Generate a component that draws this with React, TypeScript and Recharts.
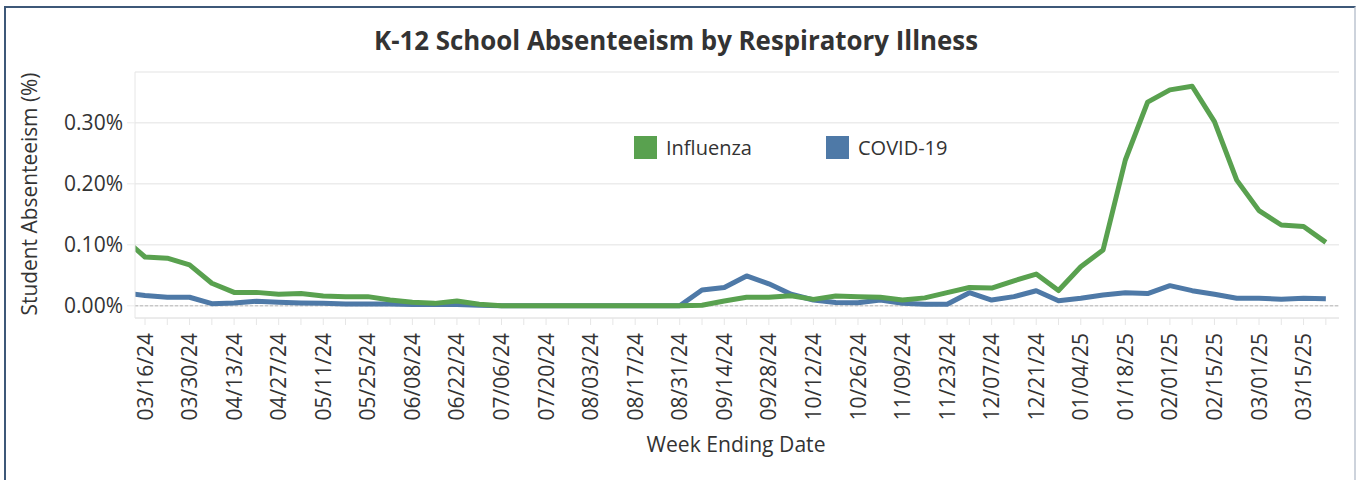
import React from "react";
import { LineChart, Line, XAxis, YAxis, CartesianGrid, ReferenceLine, Legend } from "recharts";

// Week ending dates (weekly, Saturdays)
const weekEnding = [
  "03/09/24", "03/16/24", "03/23/24", "03/30/24", "04/06/24", "04/13/24", "04/20/24", "04/27/24",
  "05/04/24", "05/11/24", "05/18/24", "05/25/24", "06/01/24", "06/08/24", "06/15/24", "06/22/24",
  "06/29/24", "07/06/24", "07/13/24", "07/20/24", "07/27/24", "08/03/24", "08/10/24", "08/17/24",
  "08/24/24", "08/31/24", "09/07/24", "09/14/24", "09/21/24", "09/28/24", "10/05/24", "10/12/24",
  "10/19/24", "10/26/24", "11/02/24", "11/09/24", "11/16/24", "11/23/24", "11/30/24", "12/07/24",
  "12/14/24", "12/21/24", "12/28/24", "01/04/25", "01/11/25", "01/18/25", "01/25/25", "02/01/25",
  "02/08/25", "02/15/25", "02/22/25", "03/01/25", "03/08/25", "03/15/25", "03/22/25",
];

// Student absenteeism (%) due to influenza
const influenza = [
  0.112, 0.080, 0.078, 0.067, 0.037, 0.022, 0.022, 0.019,
  0.020, 0.016, 0.015, 0.015, 0.0095, 0.0057, 0.004, 0.008,
  0.0025, 0.0, 0.0, 0.0, 0.0, 0.0, 0.0, 0.0,
  0.0, 0.0, 0.001, 0.008, 0.014, 0.014, 0.0165, 0.0105,
  0.016, 0.015, 0.014, 0.0095, 0.013, 0.0215, 0.030, 0.029,
  0.041, 0.052, 0.025, 0.064, 0.0915, 0.239, 0.334, 0.354,
  0.360, 0.302, 0.206, 0.156, 0.1325, 0.130, 0.104,
];

// Student absenteeism (%) due to COVID-19
const covid19 = [
  0.021, 0.017, 0.014, 0.014, 0.0035, 0.0045, 0.0075, 0.0057,
  0.0046, 0.004, 0.003, 0.003, 0.003, 0.002, 0.002, 0.002,
  0.001, 0.0, 0.0, 0.0, 0.0, 0.0, 0.0, 0.0,
  0.0, 0.0, 0.026, 0.030, 0.049, 0.036, 0.019, 0.0095,
  0.0055, 0.005, 0.0095, 0.004, 0.0025, 0.0025, 0.0215, 0.0095,
  0.015, 0.0247, 0.0084, 0.0123, 0.0177, 0.0215, 0.020, 0.033,
  0.0248, 0.019, 0.0123, 0.0123, 0.0107, 0.0123, 0.0116,
];

const yTicks = [0, 0.1, 0.2, 0.3];
const legendOrder = ["Influenza", "COVID-19"];

const data = weekEnding.map((date, k) => ({
  k,
  date,
  influenza: influenza[k],
  covid: covid19[k],
}));

const xTicks = weekEnding.map((_, k) => k).filter((k) => k >= 1);

const FONT = "'Open Sans', 'Noto Sans', 'DejaVu Sans', sans-serif";
const GREEN = "#59a14f";
const BLUE = "#4e79a7";
const TEXT = "#333333";

function DateTick(props: any) {
  const { x, y, payload } = props;
  const k = payload.value;
  if (k % 2 !== 1) return <g />;
  return (
    <text
      x={x}
      y={y}
      transform={`rotate(-90, ${x}, ${y})`}
      textAnchor="end"
      dy="0.36em"
      fontSize={21}
      fill={TEXT}
      fontFamily={FONT}
    >
      {weekEnding[k]}
    </text>
  );
}

function LegendContent(props: any) {
  const payload = [...(props.payload || [])].sort(
    (a: any, b: any) => legendOrder.indexOf(a.value) - legendOrder.indexOf(b.value)
  );
  return (
    <div style={{ display: "flex", alignItems: "center", fontFamily: FONT }}>
      {payload.map((entry: any, i: number) => (
        <div
          key={i}
          style={{ display: "flex", alignItems: "center", width: i === 0 ? 192 : 140 }}
        >
          <div style={{ width: 23, height: 23, background: entry.color, marginRight: 9 }} />
          <span style={{ fontSize: 20, color: TEXT, lineHeight: "23px" }}>{entry.value}</span>
        </div>
      ))}
    </div>
  );
}

export default function App() {
  return (
    <div
      style={{
        position: "fixed",
        left: 0,
        top: 0,
        width: 1358,
        height: 480,
        background: "#ffffff",
        overflow: "hidden",
      }}
    >
      <div
        style={{
          position: "absolute",
          left: 4,
          top: 6,
          width: 1348,
          height: 480,
          borderLeft: "2px solid #3e5878",
          borderTop: "2px solid #3e5878",
          borderRight: "2px solid #cdd3dc",
        }}
      />
      <div style={{ position: "absolute", left: 0, top: 0 }}>
        <LineChart
          width={1358}
          height={480}
          data={data}
          margin={{ top: 72, right: 19, bottom: 0, left: 0 }}
        >
          <CartesianGrid horizontal vertical={false} stroke="#ececec" strokeWidth={1.5} />
          <XAxis
            dataKey="k"
            type="number"
            domain={[0.551, 54.59]}
            allowDataOverflow
            ticks={xTicks}
            interval={0}
            height={162}
            tickSize={7}
            tickMargin={8}
            tick={<DateTick />}
            tickLine={{ stroke: "#e6e6e6" }}
            axisLine={{ stroke: "#e6e6e6" }}
          />
          <YAxis
            type="number"
            domain={[-0.02, 0.3833]}
            allowDataOverflow
            ticks={yTicks}
            width={135}
            tickSize={8}
            tickMargin={4}
            tickFormatter={(v: number) => `${v.toFixed(2)}%`}
            tick={{ fontSize: 21, fill: TEXT, fontFamily: FONT }}
            tickLine={{ stroke: "#ececec" }}
            axisLine={{ stroke: "#e6e6e6" }}
          />
          <ReferenceLine y={0} stroke="#b8b8b8" strokeDasharray="3 2" />
          <Legend
            layout="horizontal"
            verticalAlign="middle"
            align="center"
            wrapperStyle={{ position: "absolute", left: 634, top: 136, width: 360, height: 24 }}
            content={<LegendContent />}
          />
          <Line
            name="COVID-19"
            type="linear"
            dataKey="covid"
            stroke={BLUE}
            strokeWidth={5}
            dot={false}
            activeDot={false}
            strokeLinejoin="round"
            isAnimationActive={false}
          />
          <Line
            name="Influenza"
            type="linear"
            dataKey="influenza"
            stroke={GREEN}
            strokeWidth={5}
            dot={false}
            activeDot={false}
            strokeLinejoin="round"
            isAnimationActive={false}
          />
        </LineChart>
      </div>
      <svg
        width={1358}
        height={480}
        style={{ position: "absolute", left: 0, top: 0, pointerEvents: "none" }}
      >
        <text
          x={676}
          y={50}
          textAnchor="middle"
          fontFamily={FONT}
          fontWeight={700}
          fontSize={26}
          fill={TEXT}
          textLength={604}
          lengthAdjust="spacingAndGlyphs"
        >
          K-12 School Absenteeism by Respiratory Illness
        </text>
        <text
          x={37}
          y={194}
          transform="rotate(-90, 37, 194)"
          textAnchor="middle"
          fontFamily={FONT}
          fontSize={21}
          fill={TEXT}
          textLength={243}
          lengthAdjust="spacingAndGlyphs"
        >
          Student Absenteeism (%)
        </text>
        <text
          x={736}
          y={452}
          textAnchor="middle"
          fontFamily={FONT}
          fontSize={21}
          fill={TEXT}
          textLength={179}
          lengthAdjust="spacingAndGlyphs"
        >
          Week Ending Date
        </text>
      </svg>
    </div>
  );
}
